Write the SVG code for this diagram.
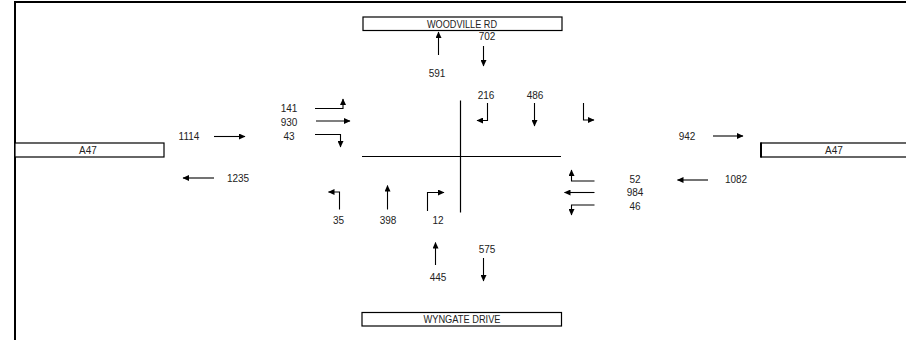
<svg xmlns="http://www.w3.org/2000/svg" width="906" height="340" viewBox="0 0 906 340">
<style>
.t{font-family:"Liberation Sans",Arial,sans-serif;font-size:10px;fill:#222;text-anchor:middle}
.a{fill:none;stroke:#000;stroke-width:1.1;marker-end:url(#ah)}
.box{fill:#fff;stroke:#000;stroke-width:1.2}
.ln{stroke:#000;stroke-width:1.2;fill:none}
</style>
<defs>
<marker id="ah" markerUnits="userSpaceOnUse" markerWidth="7" markerHeight="6" refX="6" refY="3" orient="auto">
<path d="M0,0 L6.5,3 L0,6 z" fill="#000"/>
</marker>
</defs>
<rect width="906" height="340" fill="#fff"/>
<g id="frame">
<line x1="15" y1="2" x2="906" y2="2" stroke="#000" stroke-width="2"/>
<line x1="15" y1="1" x2="15" y2="340" stroke="#000" stroke-width="2"/>
</g>
<g id="woodville-rd">
<rect class="box" x="363" y="17" width="199" height="13.5"/>
<text class="t" x="462" y="27.5" textLength="70" lengthAdjust="spacingAndGlyphs">WOODVILLE RD</text>
</g>
<g id="a47-west">
<rect class="box" x="15" y="143" width="149" height="14"/>
<text class="t" x="88" y="153.5">A47</text>
</g>
<g id="a47-east">
<rect class="box" x="761" y="143" width="150" height="14"/>
<line x1="761" y1="142.5" x2="761" y2="157.5" stroke="#000" stroke-width="2"/>
<text class="t" x="834" y="153.5">A47</text>
</g>
<g id="wyngate-drive">
<rect class="box" x="362" y="312.5" width="199.5" height="13.5"/>
<text class="t" x="462" y="323" textLength="77" lengthAdjust="spacingAndGlyphs">WYNGATE DRIVE</text>
</g>
<g id="junction">
<line class="ln" x1="362" y1="156.5" x2="561" y2="156.5"/>
<line class="ln" x1="460.5" y1="100.5" x2="460.5" y2="212.5"/>
</g>
<g id="connectors">
<path class="a" d="M214,136.5 H245"/>
<path class="a" d="M214,178 H183"/>
<path class="a" d="M315,108.5 H343 V99"/>
<path class="a" d="M316,121 H350"/>
<path class="a" d="M315,134.5 H340.5 V147"/>
<path class="a" d="M438.5,55 V32"/>
<path class="a" d="M483.5,46 V66"/>
<path class="a" d="M487.5,103 V120.5 H477"/>
<path class="a" d="M534.5,103 V126"/>
<path class="a" d="M583.5,103 V120 H594"/>
<path class="a" d="M713,136 H743"/>
<path class="a" d="M708,180 H677.5"/>
<path class="a" d="M594.5,181 H571.5 V170"/>
<path class="a" d="M594.5,192.5 H564.5"/>
<path class="a" d="M594.5,205 H571.5 V215"/>
<path class="a" d="M339.5,209.5 V192 H328.5"/>
<path class="a" d="M387.5,209.5 V185.5"/>
<path class="a" d="M427.5,211 V192.5 H444"/>
<path class="a" d="M435.5,265 V242.5"/>
<path class="a" d="M483.5,258 V281"/>
</g>
<g id="labels">
<text class="t" x="189" y="140.3">1114</text>
<text class="t" x="238" y="181.6">1235</text>
<text class="t" x="289" y="111.8">141</text>
<text class="t" x="289" y="125.8">930</text>
<text class="t" x="289" y="140.3">43</text>
<text class="t" x="437" y="76.6">591</text>
<text class="t" x="487" y="40.3">702</text>
<text class="t" x="486" y="98.6">216</text>
<text class="t" x="535" y="98.6">486</text>
<text class="t" x="687" y="139.6">942</text>
<text class="t" x="736" y="182.9">1082</text>
<text class="t" x="635" y="182.9">52</text>
<text class="t" x="635" y="196.3">984</text>
<text class="t" x="635" y="209.6">46</text>
<text class="t" x="338.5" y="223.6">35</text>
<text class="t" x="388" y="223.6">398</text>
<text class="t" x="438" y="223.6">12</text>
<text class="t" x="438" y="280.9">445</text>
<text class="t" x="487" y="252.6">575</text>
</g>
</svg>
